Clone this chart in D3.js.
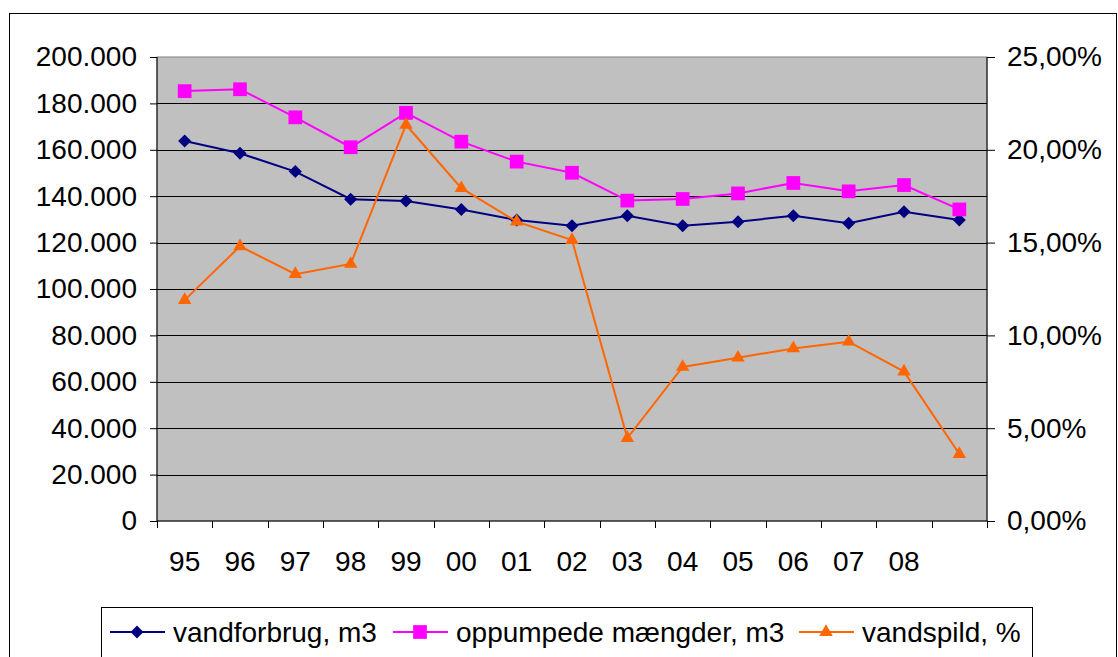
<!DOCTYPE html>
<html>
<head>
<meta charset="utf-8">
<script src="https://cdn.jsdelivr.net/npm/d3@7"></script>
<style>
  body { margin: 0; background: #fff; }
  svg { display: block; font-family: "Liberation Sans", Arial, sans-serif; }
</style>
</head>
<body>
<svg id="chart" width="1118" height="657"></svg>
<script>
const years = ["95", "96", "97", "98", "99", "00", "01", "02", "03", "04", "05", "06", "07", "08", "09"];
const tickLabels = ["95", "96", "97", "98", "99", "00", "01", "02", "03", "04", "05", "06", "07", "08"];
const vandforbrug = [163800, 158500, 150600, 138700, 137900, 134300, 129700, 127300, 131600, 127300, 129000, 131600, 128300, 133300, 129700];
const oppumpede = [185300, 186100, 174000, 161100, 175900, 163500, 154900, 150100, 138100, 138800, 141200, 145700, 142100, 144800, 134300];
const vandspild = [11.9, 14.8, 13.3, 13.85, 21.35, 17.93, 16.13, 15.14, 4.47, 8.3, 8.8, 9.3, 9.66, 8.05, 3.61];
const leftTicks = [0, 20000, 40000, 60000, 80000, 100000, 120000, 140000, 160000, 180000, 200000];
const rightTicks = [0, 5, 10, 15, 20, 25];

(() => {
  const svg = d3.select("#chart");
  const plot = { left: 157, right: 987, top: 57, bottom: 521 };

  // outer chart border
  svg.append("rect")
    .attr("x", 9.5).attr("y", 13.5)
    .attr("width", 1107).attr("height", 700)
    .attr("fill", "#fff").attr("stroke", "#000").attr("stroke-width", 1);

  const x = d3.scaleBand().domain(years).range([plot.left, plot.right]);
  const yL = d3.scaleLinear().domain([0, 200000]).range([plot.bottom, plot.top]);
  const yR = d3.scaleLinear().domain([0, 25]).range([plot.bottom, plot.top]);
  const cx = d => x(d) + x.bandwidth() / 2;

  svg.append("rect")
    .attr("x", plot.left).attr("y", plot.top)
    .attr("width", plot.right - plot.left).attr("height", plot.bottom - plot.top)
    .attr("fill", "#c0c0c0").attr("stroke", "#808080").attr("stroke-width", 1);

  // gridlines
  svg.append("g").selectAll("line")
    .data(leftTicks.filter(d => d > 0 && d < 200000))
    .join("line")
    .attr("x1", plot.left).attr("x2", plot.right)
    .attr("y1", d => Math.round(yL(d)) + 0.5).attr("y2", d => Math.round(yL(d)) + 0.5)
    .attr("stroke", "#000").attr("stroke-width", 1);

  const fmtL = d => d3.format(",")(d).replace(/,/g, ".");
  const fmtR = d => d3.format(".2f")(d).replace(".", ",") + "%";

  const axL = svg.append("g")
    .attr("transform", `translate(${plot.left},0)`)
    .call(d3.axisLeft(yL).tickValues(leftTicks).tickFormat(fmtL).tickSize(7).tickPadding(13));
  const axR = svg.append("g")
    .attr("transform", `translate(${plot.right},0)`)
    .call(d3.axisRight(yR).tickValues(rightTicks).tickFormat(fmtR).tickSize(8).tickPadding(12));
  const axB = svg.append("g")
    .attr("transform", `translate(0,${plot.bottom})`)
    .call(d3.axisBottom(x).tickFormat(d => tickLabels.includes(d) ? d : "").tickSize(0).tickPadding(30));

  // x ticks at category boundaries
  svg.append("g").selectAll("line")
    .data(years.map(d => x(d)).concat([plot.right]))
    .join("line")
    .attr("x1", d => Math.round(d) + 0.5).attr("x2", d => Math.round(d) + 0.5)
    .attr("y1", plot.bottom).attr("y2", plot.bottom + 7)
    .attr("stroke", "#000");

  [axL, axR, axB].forEach(a => {
    a.selectAll("text").attr("fill", "#000").style("font-size", "28px");
    a.selectAll("line").attr("stroke", "#000");
    a.select(".domain").attr("stroke", "#000");
  });
  axL.select(".domain").attr("d", `M0,${plot.top}V${plot.bottom}`);
  axR.select(".domain").attr("d", `M0,${plot.top}V${plot.bottom}`);
  axB.select(".domain").attr("d", `M${plot.left},0H${plot.right}`);

  const series = [
    { name: "vandforbrug, m3", values: vandforbrug, y: yL, color: "#000080", symbol: d3.symbolDiamond2, size: 108 },
    { name: "oppumpede mængder, m3", values: oppumpede, y: yL, color: "#ff00ff", symbol: d3.symbolSquare2, size: 240 },
    { name: "vandspild, %", values: vandspild, y: yR, color: "#ff6600", symbol: d3.symbolTriangle2, size: 130 }
  ];

  series.forEach(s => {
    const line = d3.line().x((d, i) => cx(years[i])).y(d => s.y(d));
    svg.append("path")
      .datum(s.values)
      .attr("fill", "none")
      .attr("stroke", s.color)
      .attr("stroke-width", 2)
      .attr("d", line);
    svg.append("g").selectAll("path")
      .data(s.values)
      .join("path")
      .attr("transform", (d, i) => `translate(${cx(years[i])},${s.y(d)})`)
      .attr("d", d3.symbol().type(s.symbol).size(s.size))
      .attr("fill", s.color);
  });

  // legend
  const legend = svg.append("g");
  legend.append("rect")
    .attr("x", 101.5).attr("y", 607.5)
    .attr("width", 931).attr("height", 80)
    .attr("fill", "#fff").attr("stroke", "#000");

  const legendX = [110, 393, 799];
  series.forEach((s, i) => {
    const lx = legendX[i];
    legend.append("line")
      .attr("x1", lx).attr("x2", lx + 55)
      .attr("y1", 632).attr("y2", 632)
      .attr("stroke", s.color).attr("stroke-width", 2);
    legend.append("path")
      .attr("transform", `translate(${lx + 27},632)`)
      .attr("d", d3.symbol().type(s.symbol).size(s.size))
      .attr("fill", s.color);
    legend.append("text")
      .attr("x", lx + 63).attr("y", 642)
      .style("font-size", "28px")
      .attr("fill", "#000")
      .text(s.name);
  });
})();
</script>
</body>
</html>
